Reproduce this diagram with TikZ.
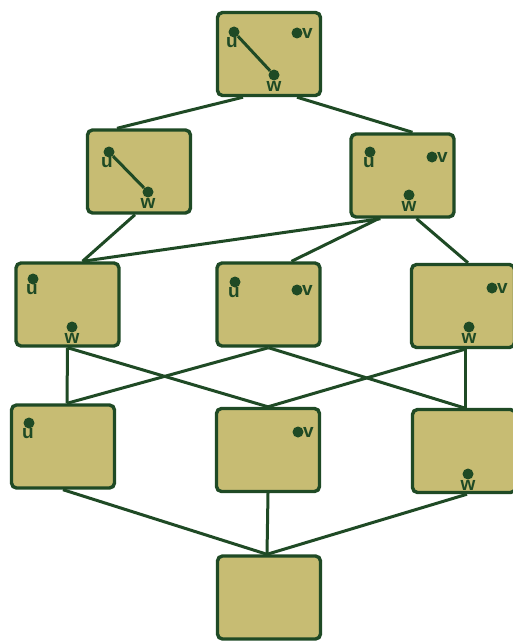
\documentclass[tikz,border=0pt]{standalone}
\usepackage{fontspec}
\setmainfont{Liberation Sans}
\definecolor{boxfill}{HTML}{C7BC73}
\definecolor{dkgreen}{HTML}{1F4A25}
\tikzset{
  statebox/.style={draw=dkgreen, fill=boxfill, line width=3.4pt, rounded corners=5pt,
    minimum width=103pt, minimum height=83pt, inner sep=0pt},
  link/.style={draw=dkgreen, line width=3pt},
  vdot/.style={circle, fill=dkgreen, minimum size=11pt, inner sep=0pt},
  lbl/.style={text=dkgreen, font=\bfseries\fontsize{19}{19}\selectfont, inner sep=0pt}
}
\begin{document}
\begin{tikzpicture}[x=1pt,y=-1pt]
\useasboundingbox (0,0) rectangle (513,642);
\clip (0,0) rectangle (513,642);
% boxes
\node[statebox] (top) at (269,54) {};
\node[statebox] (r2l) at (139,171.5) {};
\node[statebox] (r2r) at (402.5,175.5) {};
\node[statebox] (r3l) at (67.5,304.5) {};
\node[statebox] (r3m) at (268.5,304.5) {};
\node[statebox] (r3r) at (463,306) {};
\node[statebox] (r4l) at (63,446.5) {};
\node[statebox] (r4m) at (268,450) {};
\node[statebox] (r4r) at (464,451) {};
\node[statebox] (bot) at (269,597.5) {};
% connectors
\draw[link] ([xshift=-26pt]top.south) -- ([xshift=-22pt]r2l.north);
\draw[link] ([xshift=28pt]top.south) -- ([xshift=10pt]r2r.north);
\draw[link] ([xshift=-4pt]r2l.south) -- ([xshift=15pt]r3l.north);
\draw[link] ([xshift=-22pt]r2r.south) -- ([xshift=15pt]r3l.north);
\draw[link] ([xshift=-24pt]r2r.south) -- ([xshift=23pt]r3m.north);
\draw[link] ([xshift=14pt]r2r.south) -- ([xshift=5pt]r3r.north);
\draw[link] (r3l.south) -- ([xshift=4pt]r4l.north);
\draw[link] (r3l.south) -- (r4m.north);
\draw[link] (r3m.south) -- ([xshift=4pt]r4l.north);
\draw[link] (r3m.south) -- (r4r.north);
\draw[link] ([xshift=2pt]r3r.south) -- (r4m.north);
\draw[link] ([xshift=2pt]r3r.south) -- ([xshift=1pt]r4r.north);
\draw[link] (r4l.south) -- ([xshift=-2pt]bot.north);
\draw[link] (r4m.south) -- ([xshift=-2pt]bot.north);
\draw[link] ([xshift=3pt]r4r.south) -- ([xshift=-2pt]bot.north);
% top box contents
\node[vdot] (tu) at (234,32) {};
\node[vdot] (tw) at (274,75) {};
\node[vdot] (tv) at (297,33) {};
\draw[link] (tu) -- (tw);
\node[lbl, anchor=north] (tul) at ([xshift=-2pt,yshift=-5pt]tu.center) {u};
\node[lbl, anchor=north] (twl) at ([yshift=-6pt]tw.center) {w};
\node[lbl, anchor=west] (tvl) at ([xshift=5pt]tv.center) {v};
% row 2 left
\node[vdot] (au) at (109,152) {};
\node[vdot] (aw) at (148,192) {};
\draw[link] (au) -- (aw);
\node[lbl, anchor=north] (aul) at ([xshift=-2pt,yshift=-5pt]au.center) {u};
\node[lbl, anchor=north] (awl) at ([yshift=-6pt]aw.center) {w};
% row 2 right
\node[vdot] (bu) at (370,152) {};
\node[vdot] (bv) at (432,157) {};
\node[vdot] (bw) at (409,195) {};
\node[lbl, anchor=north] (bul) at ([xshift=-1pt,yshift=-5pt]bu.center) {u};
\node[lbl, anchor=west] (bvl) at ([xshift=5pt]bv.center) {v};
\node[lbl, anchor=north] (bwl) at ([yshift=-6pt]bw.center) {w};
% row 3 left
\node[vdot] (cu) at (33,279) {};
\node[vdot] (cw) at (72,327) {};
\node[lbl, anchor=north] (cul) at ([xshift=-1pt,yshift=-5pt]cu.center) {u};
\node[lbl, anchor=north] (cwl) at ([yshift=-6pt]cw.center) {w};
% row 3 middle
\node[vdot] (du) at (235,282) {};
\node[vdot] (dv) at (297,290) {};
\node[lbl, anchor=north] (dul) at ([xshift=-1pt,yshift=-5pt]du.center) {u};
\node[lbl, anchor=west] (dvl) at ([xshift=5pt]dv.center) {v};
% row 3 right
\node[vdot] (ev) at (492,288) {};
\node[vdot] (ew) at (469,327) {};
\node[lbl, anchor=west] (evl) at ([xshift=5pt]ev.center) {v};
\node[lbl, anchor=north] (ewl) at ([yshift=-6pt]ew.center) {w};
% row 4 left
\node[vdot] (fu) at (29,423) {};
\node[lbl, anchor=north] (ful) at ([xshift=-1pt,yshift=-5pt]fu.center) {u};
% row 4 middle
\node[vdot] (gv) at (298,432) {};
\node[lbl, anchor=west] (gvl) at ([xshift=5pt]gv.center) {v};
% row 4 right
\node[vdot] (hw) at (468,474) {};
\node[lbl, anchor=north] (hwl) at ([yshift=-6pt]hw.center) {w};
\end{tikzpicture}
\end{document}
